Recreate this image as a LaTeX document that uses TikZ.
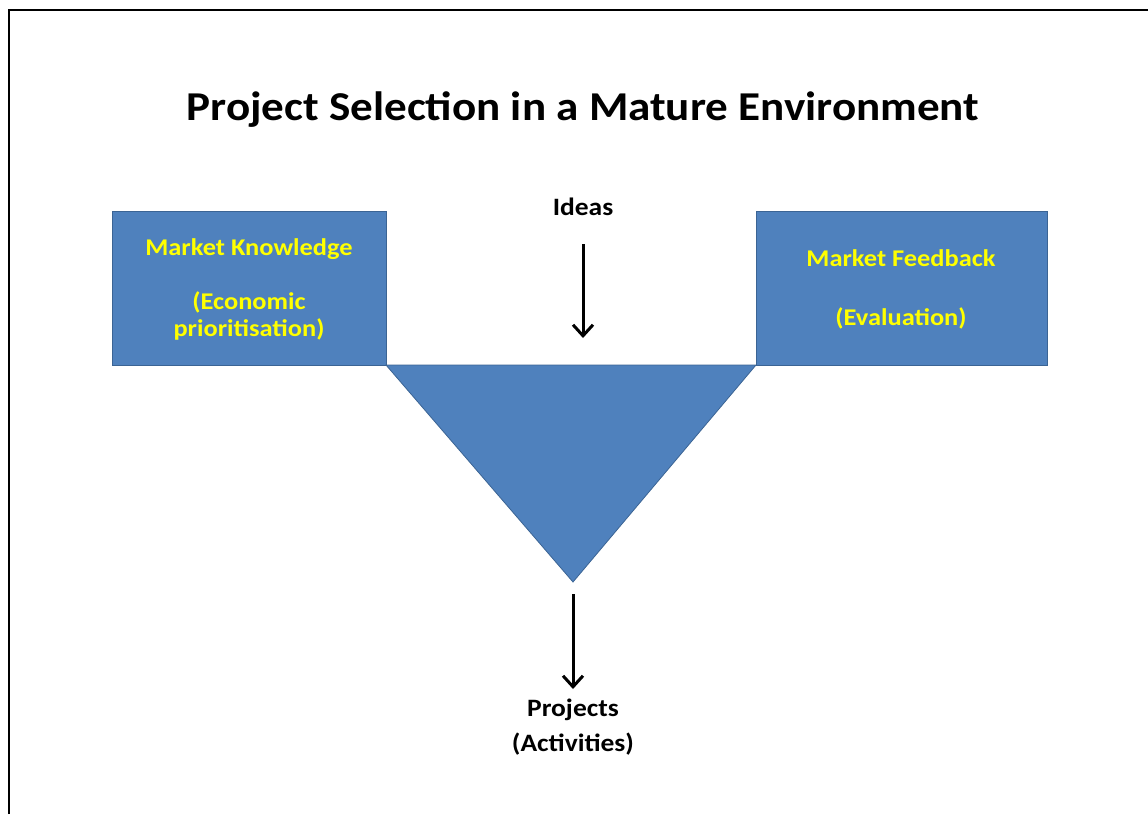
\documentclass[tikz,border=0pt]{standalone}
\usepackage{fontspec}
\setmainfont{Carlito}[FakeStretch=1.1]
\usetikzlibrary{arrows.meta}
\definecolor{boxblue}{HTML}{4F81BD}
\definecolor{boxedge}{HTML}{3B6494}
\definecolor{txtyellow}{HTML}{FFFF00}
\tikzset{
  panel/.style={fill=boxblue, draw=boxedge, line width=0.8pt},
  paneltext/.style={text=txtyellow, font=\bfseries\fontsize{24}{27}\selectfont, align=center},
  plain/.style={text=black, font=\bfseries\fontsize{25}{35}\selectfont, align=center},
  flow/.style={-{Straight Barb[length=11pt,width=20pt,line width=3pt]}, line width=3pt, black},
}
\begin{document}
\begin{tikzpicture}[x=1pt,y=-1pt]
\useasboundingbox (0,0) rectangle (1148,814);
% frame (top and left only)
\draw[line width=2.2pt] (9,814) -- (9,10) -- (1148,10);
% title
\node[font=\bfseries\fontsize{41}{46}\selectfont] (title) at (583,110) {Project Selection in a Mature Environment};
% panels
\path[panel] (112,211) rectangle (386,365);
\node (lbox) at (249,288) {};
\path[panel] (756,211) rectangle (1047,365);
\node (rbox) at (901,288) {};
\path[panel] (386,365) -- (756,365) -- (573,582) -- cycle;
\coordinate (apex) at (573,582);
\node[paneltext] (ltext) at (249,289) {Market Knowledge\\[27pt](Economic\\prioritisation)};
\node[paneltext] (rtext) at (901,289) {Market Feedback\\[32pt](Evaluation)};
% ideas
\node[plain] (ideas) at (583,207) {Ideas};
\coordinate (ideasend) at (583,338);
\draw[flow] (583,244) -- (ideasend);
% projects
\node[plain] (proj) at (573,727) {Projects\\(Activities)};
\coordinate (projend) at (573,689);
\draw[flow] (573,594) -- (projend);
\end{tikzpicture}
\end{document}
